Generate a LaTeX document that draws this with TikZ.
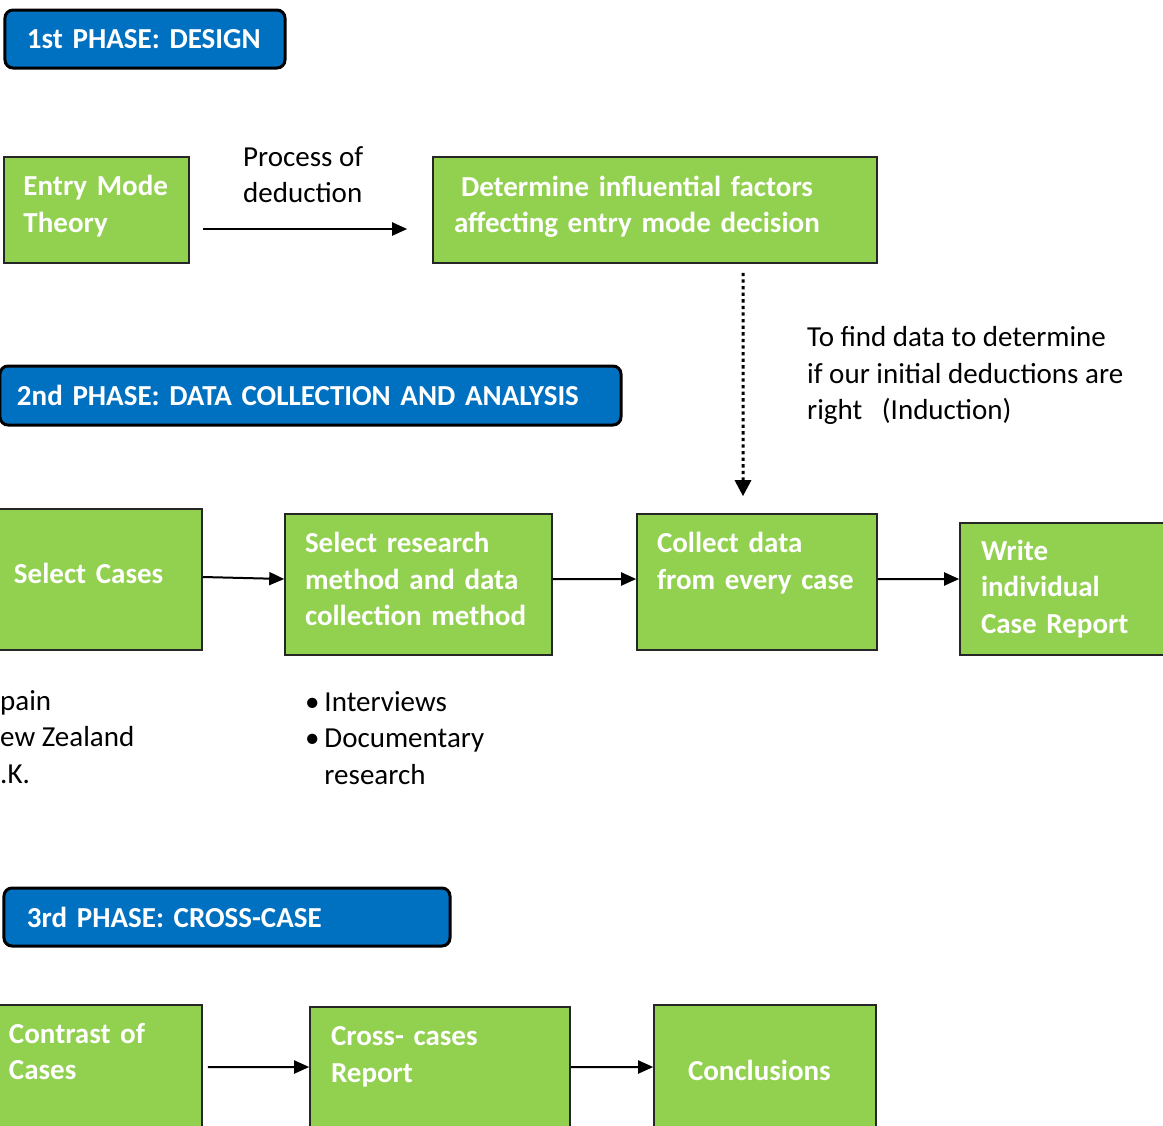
\documentclass[tikz,border=0pt]{standalone}
\usepackage{fontspec}
\setmainfont{Carlito}
\usepackage{tikz}
\usetikzlibrary{arrows.meta}

\definecolor{phaseblue}{HTML}{0070C0}
\definecolor{stagegreen}{HTML}{92D050}
\newcommand{\stagefont}{\fontsize{29bp}{36.5bp}\selectfont}

\tikzset{
	phase/.style={rectangle,rounded corners=8bp,draw=black,line width=3bp,fill=phaseblue,text=white,font=\stagefont\bfseries,align=left,inner sep=0pt},
	stage/.style={rectangle,draw=black!85,line width=1.6bp,fill=stagegreen,text=white,font=\stagefont\bfseries,align=left,inner sep=0pt},
	note/.style={inner sep=0pt,align=left,anchor=west,font=\stagefont},
	liftby/.style={execute at end node={\par\vspace{#1}}},
	flow/.style={line width=2bp,-{Triangle[length=15bp,width=13bp]}},
	induction/.style={line width=3bp,dash pattern=on 3.3bp off 3.3bp,-{Triangle[length=16bp,width=16bp]}}
}

\begin{document}
\begin{tikzpicture}[x=1bp,y=-1bp]
	\useasboundingbox (0,0) rectangle (1163,1126);
	\clip (0,0) rectangle (1163,1126);

	\node[phase,liftby=-4bp,minimum width=280bp,minimum height=58bp,text width=236bp] (p1) at (145,39) {1st PHASE: DESIGN};
	\node[stage,liftby=8bp,minimum width=185bp,minimum height=106bp,text width=146bp] (emt) at (96.5,210) {Entry Mode\\Theory};
	\node[stage,liftby=6bp,minimum width=444bp,minimum height=106bp,text width=402bp] (dif) at (655,210) {\hspace*{7bp}Determine influential factors\\affecting entry mode decision};
	\node[note] (pod) at (243,174.5) {Process of\\deduction};

	\node[phase,liftby=-4bp,minimum width=621bp,minimum height=59bp,text width=587bp] (p2) at (310.5,395.5) {2nd PHASE: DATA COLLECTION AND ANALYSIS};
	\node[note] (ind) at (807,375.5) {To find data to determine\\if our initial deductions are\\right~~~(Induction)};
	\node[stage,liftby=12bp,minimum width=222bp,minimum height=141bp,text width=154bp] (sc) at (91,579.5) {Select Cases};
	\node[stage,liftby=11bp,minimum width=267bp,minimum height=141bp,text width=227bp] (srm) at (418.5,584.5) {Select research\\method and data\\collection method};
	\node[stage,liftby=-5bp,minimum width=240bp,minimum height=136bp,text width=200bp] (cdc) at (757,582) {Collect data\\from every case\\\strut};
	\node[stage,minimum width=240bp,minimum height=132bp,text width=198bp] (wcr) at (1080,589) {Write\\individual\\Case Report};
	\node[note] (cty) at (0,737) {pain\\ew Zealand\\.K.};
	\node[note] (tools) at (305,738) {\textbullet\,Interviews\\\textbullet\,Documentary\\\phantom{\textbullet\,}research};

	\node[phase,liftby=-4bp,minimum width=446bp,minimum height=58bp,text width=400bp] (p3) at (227,917) {3rd PHASE: CROSS-CASE};
	\node[stage,liftby=-10bp,minimum width=222bp,minimum height=130bp,text width=164bp] (coc) at (91,1070) {Contrast of\\Cases\\\strut};
	\node[stage,liftby=-14bp,minimum width=260bp,minimum height=128bp,text width=218bp] (ccr) at (440,1071) {Cross- cases\\Report\\\strut};
	\node[stage,minimum width=222bp,minimum height=130bp,text width=154bp] (con) at (765,1070) {Conclusions};

	\draw[flow,shorten <=13bp,shorten >=25bp] ([yshift=-19bp]emt.east) -- ([yshift=-19bp]dif.west);
	\draw[induction,shorten <=9bp,shorten >=17bp] ([xshift=88bp]dif.south) -- ([xshift=-14bp]cdc.north);
	\draw[flow] ([yshift=2.5bp]sc.east) -- ([yshift=5.5bp]srm.west);
	\draw[flow] ([yshift=5.5bp]srm.east) -- ([yshift=3bp]cdc.west);
	\draw[flow] ([yshift=3bp]cdc.east) -- ([yshift=10bp]wcr.west);
	\draw[flow,shorten <=5bp] ([yshift=3bp]coc.east) -- ([yshift=4bp]ccr.west);
	\draw[flow] ([yshift=4bp]ccr.east) -- ([yshift=3bp]con.west);
\end{tikzpicture}
\end{document}
